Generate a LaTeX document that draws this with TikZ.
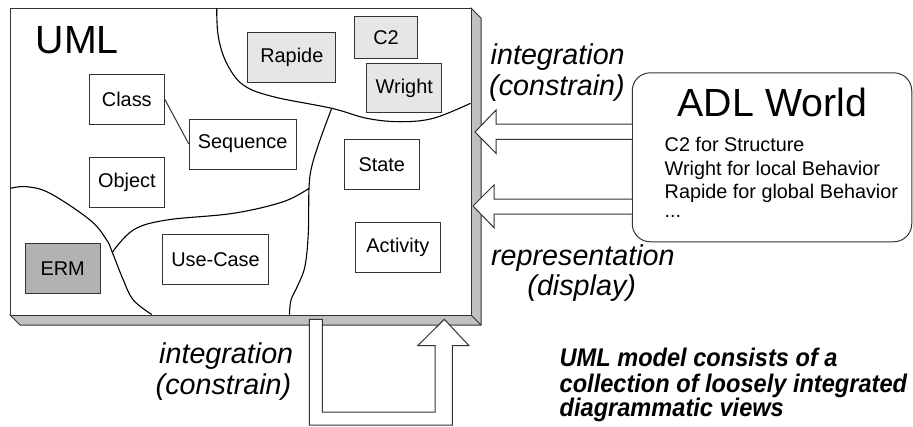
\documentclass[tikz,border=0pt]{standalone}
\usepackage{fontspec}
\setmainfont{Liberation Sans}
\definecolor{slab}{HTML}{C0C0C0}
\definecolor{adlfill}{HTML}{E6E6E6}
\definecolor{ermfill}{HTML}{B2B2B2}
\definecolor{edge}{HTML}{333333}
\newcommand{\narrow}[1]{\scalebox{0.925}[1]{#1}}
\begin{document}
\begin{tikzpicture}[x=1pt,y=-1pt,line join=miter,
  view/.style={draw=edge,line width=1pt,fill=white,inner sep=0pt,
    font=\fontsize{19.9}{23}\selectfont},
  adlview/.style={view,fill=adlfill},
  ermview/.style={view,fill=ermfill},
  region/.style={draw=black,line width=1.1pt},
  blockarrow/.style={draw=edge,line width=1pt,fill=white},
  itlabel/.style={inner sep=0pt,anchor=base west,font=\fontsize{28.7}{31}\selectfont\itshape},
  itlabelc/.style={inner sep=0pt,anchor=base,font=\fontsize{28.7}{31}\selectfont\itshape},
  note/.style={inner sep=0pt,anchor=base west,font=\fontsize{25.5}{26}\selectfont\bfseries\itshape},
  adlline/.style={inner sep=0pt,anchor=base west,font=\fontsize{19.8}{23}\selectfont},
  title/.style={inner sep=0pt,anchor=base west,font=\fontsize{39.3}{44}\selectfont}]
\useasboundingbox (0,0) rectangle (913,426);

% 3D slab
\filldraw[fill=slab,draw=edge,line width=1pt] (10,315) -- (20,325) -- (481,325) -- (481,18) -- (471,8) -- cycle;
\node[draw=edge,line width=1pt,fill=white,minimum width=461pt,minimum height=307pt,inner sep=0pt] (uml) at (240.5,161.5) {};
\draw[edge,line width=1pt] (uml.south east) -- (481,325);

% region boundaries
\draw[region] plot[smooth,tension=0.6] coordinates {(216.7,8) (218.3,36.7) (226.7,63.3) (243.3,85) (273.3,96.7) (331.7,108.3) (366.7,118.3) (400,121.7) (433.3,118.3) (470.5,103.3)};
\draw[region] plot[smooth,tension=0.6] coordinates {(331.7,108.3) (320,140) (311.7,166.7) (309,188.3) (308.3,233) (305,266) (298,285) (291,300) (289.5,314.5)};
\draw[region] plot[smooth,tension=0.6] coordinates {(309,188.3) (283.3,201.7) (233.3,213.3) (166.7,220) (133.3,230) (112.3,252.3)};
\draw[region] plot[smooth,tension=0.6] coordinates {(10.5,188.3) (26.7,186.7) (50,193.3) (90,220) (106.7,240) (112.3,252.3) (123.3,280) (133.3,300) (151.7,314.5)};

\node[title] (umltitle) at (35.5,53.3) {UML};

% views
\node[adlview,minimum width=88.3pt,minimum height=49.6pt] (rapide) at (291.8,57.5) {Rapide};
\node[adlview,minimum width=63.4pt,minimum height=42.3pt] (c2) at (386,37.2) {C2};
\node[adlview,minimum width=75.3pt,minimum height=49.4pt] (wright) at (404.3,88) {Wright};
\node[view,minimum width=75pt,minimum height=50pt] (class) at (126.8,99.3) {Class};
\node[view,minimum width=106.7pt,minimum height=50pt] (sequence) at (242.7,144) {Sequence};
\node[view,minimum width=75pt,minimum height=50pt] (object) at (126.8,182.3) {Object};
\node[view,minimum width=75pt,minimum height=49.7pt] (state) at (381.8,164.2) {State};
\node[view,minimum width=85pt,minimum height=50pt] (activity) at (397.8,247.3) {Activity};
\node[view,minimum width=106.4pt,minimum height=49.7pt] (usecase) at (215.5,259.2) {Use-Case};
\node[ermview,minimum width=75.3pt,minimum height=50.3pt] (erm) at (62.7,268.8) {ERM};
\draw[edge,line width=1pt] (class.east) -- (sequence.west);

% ADL world
\node[draw=edge,line width=1pt,fill=white,rounded corners=18pt,minimum width=279.5pt,minimum height=169pt,inner sep=0pt] (adl) at (772,157.3) {};
\node[title] (adltitle) at (677.5,116.7) {ADL World};
\node[adlline] (l1) at (664.5,151.5) {C2 for Structure};
\node[adlline] (l2) at (664.5,175) {Wright for local Behavior};
\node[adlline] (l3) at (664.5,198.3) {Rapide for global Behavior};
\node[adlline] (l4) at (664.5,217) {...};

% block arrows from ADL to UML
\draw[blockarrow] (adl.west |- 0,124) -- (496,124) -- (496,110) -- (475,132) -- (496,153.3) -- (496,139.3) -- (adl.west |- 0,139.3);
\draw[blockarrow] (adl.west |- 0,199) -- (494,199) -- (494,185) -- (473,206) -- (494,227.7) -- (494,214) -- (adl.west |- 0,214);

% U arrow
\draw[blockarrow] (309.3,319.3) -- (309.3,425) -- (452.3,425) -- (452.3,345.7) -- (469,345.7) -- (444.3,319.3) -- (417.7,345.7) -- (435,345.7) -- (435,412) -- (322.3,412) -- (322.3,319.3) -- cycle;

% labels
\node[itlabel] (int1a) at (490.5,64.5) {integration};
\node[itlabel] (int1b) at (489,95.5) {(constrain)};
\node[itlabelc] (repa) at (582.9,265) {representation};
\node[itlabelc] (repb) at (581.7,295.5) {(display)};
\node[itlabel] (int2a) at (159,363.3) {integration};
\node[itlabel] (int2b) at (155.5,394.5) {(constrain)};

\node[note] (n1) at (559.5,366) {\narrow{UML model consists of a}};
\node[note] (n2) at (559.5,392) {\narrow{collection of loosely integrated}};
\node[note] (n3) at (559.5,416.5) {\narrow{diagrammatic views}};
\end{tikzpicture}
\end{document}
